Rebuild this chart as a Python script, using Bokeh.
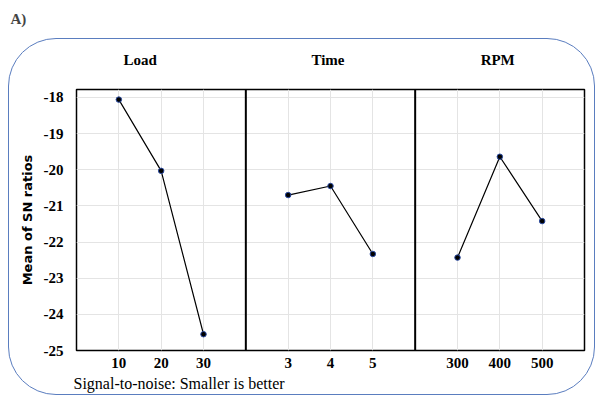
from bokeh.plotting import figure
from bokeh.models import Range1d, FixedTicker, Span, Title, LinearAxis
from bokeh.layouts import column
from bokeh.embed import file_html
from bokeh.resources import INLINE

panel_names = ["Load", "Time", "RPM"]
load_levels = ["10", "20", "30"]
load_sn = [-18.06, -20.03, -24.55]
time_levels = ["3", "4", "5"]
time_sn = [-20.70, -20.45, -22.33]
rpm_levels = ["300", "400", "500"]
rpm_sn = [-22.43, -19.64, -21.42]
y_ticks = [-25, -24, -23, -22, -21, -20, -19, -18]

levels = [load_levels, time_levels, rpm_levels]
values = [load_sn, time_sn, rpm_sn]

SERIF = "Liberation Serif"

# small header figure holding the panel tag "A)"
head = figure(width=589, height=38, output_backend="svg", toolbar_location=None,
              min_border=0, title="A)")
head.title.text_font = SERIF
head.title.text_font_style = "bold"
head.title.text_font_size = "15px"
head.title.align = "left"
head.title.offset = -60
head.title.standoff = 10
head.title.padding = 3
head.axis.visible = False
head.grid.visible = False
head.outline_line_color = None
head.border_fill_color = "white"

p = figure(width=587, height=357, output_backend="svg", toolbar_location=None,
           x_range=Range1d(0, 12), y_range=Range1d(-25, -17.78),
           min_border_left=67, min_border_right=12, min_border_top=50,
           min_border_bottom=46)
p.margin = (0, 0, 0, 8)
p.background_fill_color = "white"
p.border_fill_alpha = 0
p.outline_line_color = "black"
p.outline_line_width = 1.5
p.styles = {"border": "1px solid #5a7dbf", "border-radius": "48px", "overflow": "hidden"}

bottom_axis = p.below[0]
left_axis = p.left[0]

xticks = []
overrides = {}
for i, (lv, vals) in enumerate(zip(levels, values)):
    xs = [i * 4 + j + 1 for j in range(len(lv))]
    for x, l in zip(xs, lv):
        xticks.append(x)
        overrides[x] = l
    p.line(xs, vals, line_color="black", line_width=1.2)
    p.scatter(xs, vals, size=5.5, fill_color="black", line_color="#2a4aa0", line_width=1)

bottom_axis.ticker = FixedTicker(ticks=xticks)
bottom_axis.major_label_overrides = overrides
left_axis.ticker = FixedTicker(ticks=y_ticks)
left_axis.major_label_overrides = {v: str(v) for v in y_ticks}
p.xgrid.ticker = FixedTicker(ticks=xticks)
p.xgrid.grid_line_color = "#e4e4e4"
p.ygrid.grid_line_color = "#e4e4e4"

# panel titles as an axis above the frame
title_pos = [1.505, 5.94, 9.95]
top_axis = LinearAxis(ticker=FixedTicker(ticks=title_pos),
                      major_label_overrides=dict(zip(title_pos, panel_names)))
p.add_layout(top_axis, "above")

for ax in (bottom_axis, left_axis, top_axis):
    ax.axis_line_color = None
    ax.major_tick_line_color = None
    ax.minor_tick_line_color = None
    ax.major_tick_out = 0
    ax.major_tick_in = 0
    ax.minor_tick_out = 0
    ax.minor_tick_in = 0
    ax.major_label_text_font = SERIF
    ax.major_label_text_font_style = "bold"
    ax.major_label_text_font_size = "15px"
    ax.major_label_text_color = "black"
bottom_axis.major_label_standoff = 7
top_axis.major_label_standoff = 22
left_axis.major_label_standoff = 13
left_axis.axis_label = "Mean of SN ratios"
left_axis.axis_label_text_font = "DejaVu Sans"
left_axis.axis_label_text_font_style = "bold"
left_axis.axis_label_text_font_size = "13px"
left_axis.axis_label_text_color = "black"
left_axis.axis_label_standoff = 6

for loc in (4, 8):
    p.add_layout(Span(location=loc, dimension="height", line_color="black", line_width=2))

footer = Title(text="Signal-to-noise: Smaller is better", align="left", offset=-3,
               text_font=SERIF, text_font_style="normal", text_font_size="16px",
               text_color="black", standoff=5)
p.add_layout(footer, "below")

layout = column(head, p, spacing=0)
open("out.html", "w").write(file_html(layout, INLINE))
